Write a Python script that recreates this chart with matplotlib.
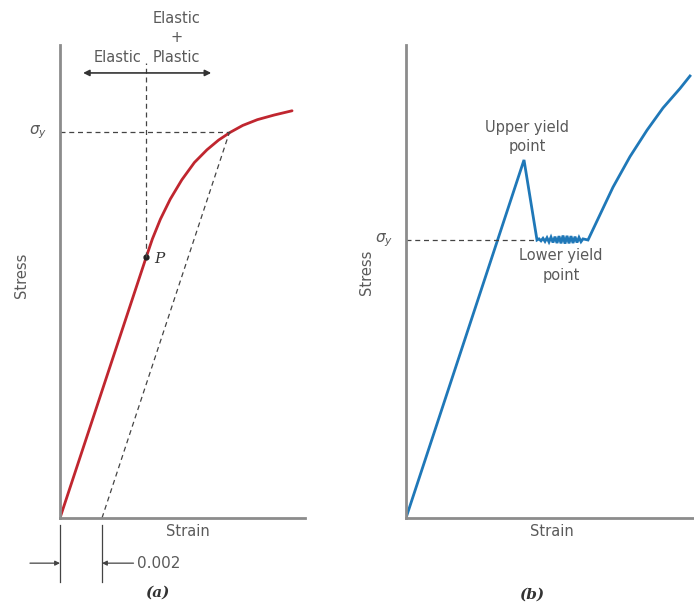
import matplotlib

matplotlib.use("Agg")

import matplotlib.pyplot as plt  # noqa: E402

# ---------------------------------------------------------------------------
# Data
# ---------------------------------------------------------------------------

# (a) gradual yielding, strain in %, stress normalised to sigma_y
strain_a = [0.0, 0.41, 0.44, 0.478, 0.525, 0.58, 0.64, 0.70, 0.755, 0.81,
            0.87, 0.94, 1.02, 1.105]
stress_a = [0.0, 0.675, 0.723, 0.774, 0.826, 0.876, 0.921, 0.954, 0.979,
            0.999, 1.017, 1.032, 1.044, 1.055]
p_point = (0.41, 0.675)
offset = 0.2          # 0.002 strain offset, in %
yield_a = (0.81, 1.0)

# (b) discontinuous yielding, arbitrary strain units
strain_b = [0.0, 1.18, 1.31, 1.33, 1.35, 1.37, 1.39, 1.41, 1.43, 1.45, 1.47,
            1.49, 1.51, 1.53, 1.55, 1.57, 1.59, 1.61, 1.63, 1.65, 1.67, 1.69,
            1.71, 1.73, 1.75, 1.77, 1.82, 2.07, 2.24, 2.41, 2.57, 2.74, 2.84]
stress_b = [0.0, 1.288, 1.0, 1.004, 0.997, 1.006, 0.995, 1.008, 0.993, 1.010,
            0.991, 1.012, 0.989, 1.014, 0.988, 1.016, 0.987, 1.015, 0.988,
            1.014, 0.989, 1.012, 0.991, 1.009, 0.994, 1.004, 1.0, 1.19, 1.30,
            1.395, 1.475, 1.545, 1.59]
upper_yield = (1.18, 1.288)
lower_yield_x = 1.31

RED = "#c0262f"
BLUE = "#1f78b8"
AXIS = "#8c8c8c"
TXT = "#5a5a5a"
DASH = "#444444"

fig = plt.figure(figsize=(6.94, 6.02), dpi=100)
ax_a = fig.add_axes([60 / 694, 84 / 602, 245 / 694, 473 / 602])
ax_b = fig.add_axes([406 / 694, 84 / 602, 288 / 694, 473 / 602])

for ax in (ax_a, ax_b):
    for side in ("top", "right"):
        ax.spines[side].set_visible(False)
    for side in ("left", "bottom"):
        ax.spines[side].set_color(AXIS)
        ax.spines[side].set_linewidth(2)
    ax.set_xticks([])
    ax.set_yticks([])
    ax.patch.set_alpha(0)

dash_kw = dict(color=DASH, lw=0.9, dashes=(4, 3), clip_on=False)
txt_kw = dict(color=TXT, fontsize=10.5, family="DejaVu Sans")
serif_kw = dict(color="#333333", fontsize=11, family="DejaVu Serif",
                style="italic")

# ---------------------------------------------------------------- panel (a)
ax_a.set_xlim(0, 245 / 210)
ax_a.set_ylim(0, 473 / 386)
ax_a.plot(strain_a, stress_a, color=RED, lw=2, solid_capstyle="round")
ax_a.plot(*p_point, "o", color="#222222", ms=3.5)

# offset line parallel to the elastic part
slope = p_point[1] / p_point[0]
ax_a.plot([offset, offset + yield_a[1] / slope], [0, yield_a[1]], **dash_kw)
ax_a.plot([0, yield_a[0]], [yield_a[1], yield_a[1]], **dash_kw)
ax_a.plot([p_point[0], p_point[0]], [p_point[1], 1.18], **dash_kw)

ax_a.annotate("", xy=(0.11, 1.153), xytext=(0.72, 1.153),
              arrowprops=dict(arrowstyle="<|-|>", color="#333333", lw=1.2,
                              mutation_scale=9, shrinkA=0, shrinkB=0),
              annotation_clip=False)
ax_a.text(0.386, 1.192, "Elastic", ha="right", va="center", **txt_kw)
ax_a.text(0.443, 1.192, "Plastic", ha="left", va="center", **txt_kw)
ax_a.text(0.557, 1.293, "Elastic", ha="center", va="center", **txt_kw)
ax_a.text(0.557, 1.244, "+", ha="center", va="center", **txt_kw)

ax_a.text(-0.06, 1.0, r"$\sigma_y$", ha="right", va="center", color=TXT,
          fontsize=11)
ax_a.text(0.45, 0.672, "P", ha="left", va="center", **serif_kw)
ax_a.text(0.61, -0.036, "Strain", ha="center", va="center", **txt_kw)
ax_a.text(-0.181, 0.63, "Stress", ha="center", va="center", rotation=90,
          **txt_kw)

# 0.002 offset dimension
for xv in (0.0, offset):
    ax_a.plot([xv, xv], [-0.018, -0.165], color="#444444", lw=0.9,
              clip_on=False)
ax_a.annotate("", xy=(0.0, -0.117), xytext=(-0.143, -0.117),
              arrowprops=dict(arrowstyle="-|>", color="#444444", lw=0.9,
                              mutation_scale=7, shrinkA=0, shrinkB=0),
              annotation_clip=False)
ax_a.annotate("", xy=(offset, -0.117), xytext=(0.35, -0.117),
              arrowprops=dict(arrowstyle="-|>", color="#444444", lw=0.9,
                              mutation_scale=7, shrinkA=0, shrinkB=0),
              annotation_clip=False)
ax_a.text(0.365, -0.117, "0.002", ha="left", va="center", color=TXT,
          fontsize=11, family="DejaVu Sans")
ax_a.text(0.462, -0.194, "(a)", ha="center", va="center", weight="bold",
          **serif_kw)

# ---------------------------------------------------------------- panel (b)
ax_b.set_xlim(0, 2.88)
ax_b.set_ylim(0, 473 / 278)
ax_b.plot(strain_b, stress_b, color=BLUE, lw=2, solid_joinstyle="miter")
ax_b.plot([0, lower_yield_x], [1.0, 1.0], **dash_kw)

ax_b.text(upper_yield[0] + 0.03, 1.406, "Upper yield", ha="center",
          va="center", **txt_kw)
ax_b.text(upper_yield[0] + 0.03, 1.338, "point", ha="center", va="center",
          **txt_kw)
ax_b.text(1.55, 0.946, "Lower yield", ha="center", va="center", **txt_kw)
ax_b.text(1.55, 0.874, "point", ha="center", va="center", **txt_kw)
ax_b.text(-0.13, 1.0, r"$\sigma_y$", ha="right", va="center", color=TXT,
          fontsize=11)
ax_b.text(1.46, -0.05, "Strain", ha="center", va="center", **txt_kw)
ax_b.text(-0.40, 0.885, "Stress", ha="center", va="center", rotation=90,
          **txt_kw)
ax_b.text(1.26, -0.277, "(b)", ha="center", va="center", weight="bold",
          **serif_kw)

fig.savefig("out.png", dpi=100)
